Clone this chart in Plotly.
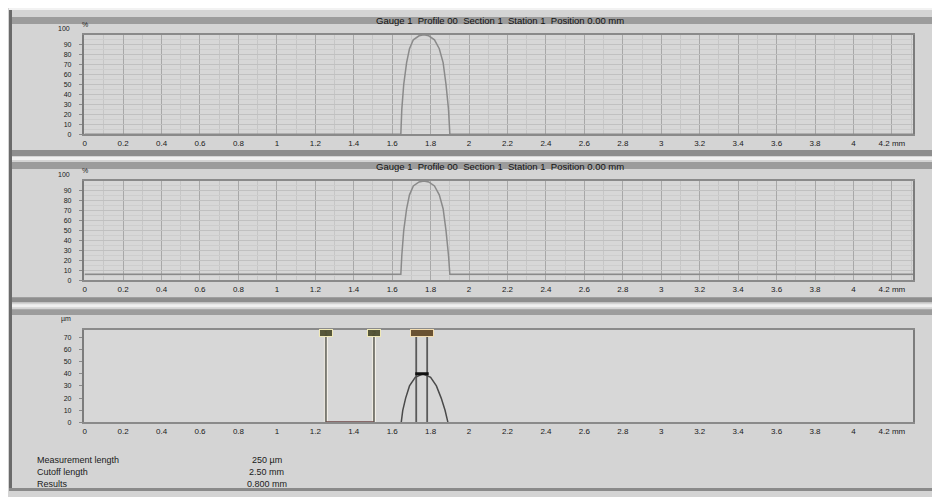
import plotly.graph_objects as go

# page is placed with an 8px body margin, so the figure is drawn 8px in and 8px down
OFF = 8
W, H = 940 - OFF, 497 - OFF

# ---------------- data ----------------
x_ticks = [0, 0.2, 0.4, 0.6, 0.8, 1, 1.2, 1.4, 1.6, 1.8, 2, 2.2, 2.4, 2.6, 2.8, 3, 3.2, 3.4, 3.6, 3.8, 4, 4.2]
x_tick_labels = ["0", "0.2", "0.4", "0.6", "0.8", "1", "1.2", "1.4", "1.6", "1.8", "2", "2.2", "2.4",
                 "2.6", "2.8", "3", "3.2", "3.4", "3.6", "3.8", "4", "4.2 mm"]
pct_ticks = [0, 10, 20, 30, 40, 50, 60, 70, 80, 90]
pct_labels = ["0", "10", "20", "30", "40", "50", "60", "70", "80", "90"]
um_ticks = [0, 100, 200, 300, 400, 500, 600, 700]
um_labels = ["0", "10", "20", "30", "40", "50", "60", "70"]

# profile traces
top_x = [0, 1.645, 1.65, 1.66, 1.675, 1.69, 1.71, 1.74, 1.765, 1.79, 1.82, 1.845, 1.865, 1.88, 1.893, 1.90, 4.31]
top_y = [0, 0, 25, 50, 72, 86, 95, 99, 100, 99, 95, 86, 72, 50, 25, 0, 0]
mid_x = [0, 1.645, 1.65, 1.66, 1.675, 1.69, 1.71, 1.74, 1.765, 1.79, 1.82, 1.845, 1.865, 1.88, 1.893, 1.90, 4.31]
mid_y = [6, 6, 25, 50, 72, 86, 95, 99, 100, 99, 95, 86, 72, 50, 25, 6, 6]
bot_x = [1.647, 1.655, 1.67, 1.69, 1.72, 1.76, 1.80, 1.83, 1.855, 1.875, 1.89]
bot_y = [0, 100, 200, 300, 370, 400, 370, 300, 200, 100, 0]
peak_bar_x = [1.72, 1.79]
peak_bar_y = [400, 400]
cursor_a = [1.255, 1.505]
cursor_b = [1.725, 1.782]
cursor_labels_a = ["1", "2"]

title_text = "Gauge 1  Profile 00  Section 1  Station 1  Position 0.00 mm"
left_info = ["Measurement length", "Cutoff length", "Results"]
mid_info = ["250 µm", "2.50 mm", "0.800 mm"]

FONT = "Liberation Sans"

# ---------------- helpers ----------------
def px(x):
    return (x - OFF) / W

def py(y):
    return 1 - (y - OFF) / H

XR = [-0.004, 4.31]
fig = go.Figure()

panels = [
    dict(top=35, bot=135),
    dict(top=182, bot=282),
    dict(top=332, bot=425),
]

fig.add_trace(go.Scatter(x=top_x, y=top_y, mode="lines", line=dict(color="#8a8a8a", width=1.5),
                         xaxis="x", yaxis="y", hoverinfo="skip"))
fig.add_trace(go.Scatter(x=mid_x, y=mid_y, mode="lines", line=dict(color="#8a8a8a", width=1.5),
                         xaxis="x2", yaxis="y2", hoverinfo="skip"))

# cursors in bottom panel
for cx in cursor_a:
    fig.add_trace(go.Scatter(x=[cx, cx], y=[0, 760], mode="lines", line=dict(color="#f4f0e8", width=4),
                             xaxis="x3", yaxis="y3", hoverinfo="skip"))
    fig.add_trace(go.Scatter(x=[cx, cx], y=[0, 760], mode="lines", line=dict(color="#7a7a72", width=2),
                             xaxis="x3", yaxis="y3", hoverinfo="skip"))
fig.add_trace(go.Scatter(x=cursor_a, y=[0, 0], mode="lines", line=dict(color="#6e4646", width=2.5),
                         xaxis="x3", yaxis="y3", hoverinfo="skip"))
for cx in cursor_b:
    fig.add_trace(go.Scatter(x=[cx, cx], y=[0, 760], mode="lines", line=dict(color="#5a5a5a", width=1.8),
                             xaxis="x3", yaxis="y3", hoverinfo="skip"))
fig.add_trace(go.Scatter(x=bot_x, y=bot_y, mode="lines", line=dict(color="#4a4a4a", width=1.5),
                         xaxis="x3", yaxis="y3", hoverinfo="skip"))
fig.add_trace(go.Scatter(x=peak_bar_x, y=peak_bar_y, mode="lines", line=dict(color="#111111", width=3),
                         xaxis="x3", yaxis="y3", hoverinfo="skip"))

# cursor label boxes
for cx, lab in zip(cursor_a, cursor_labels_a):
    fig.add_annotation(x=cx, y=735, xref="x3", yref="y3", text=lab, showarrow=False,
                       xanchor="center", yanchor="middle",
                       font=dict(size=7, color="#4a4a2c", family=FONT),
                       bgcolor="#56563a", bordercolor="#efe8b8", borderwidth=1, borderpad=0, width=12, height=6)
mid_b = (cursor_b[0] + cursor_b[1]) / 2
fig.add_annotation(x=mid_b, y=735, xref="x3", yref="y3", text=" ", showarrow=False,
                   xanchor="center", yanchor="middle",
                   bgcolor="#6a5232", bordercolor="#f2dcb0", borderwidth=1, borderpad=0, width=22, height=6)

axis_common = dict(range=XR, tickmode="array", tickvals=x_ticks, ticktext=x_tick_labels,
                   showgrid=True, gridcolor="#a8a8a8", gridwidth=1,
                   minor=dict(dtick=0.1, showgrid=True, gridcolor="#c6c6c6", gridwidth=1),
                   showline=True, linecolor="#8a8a8a", linewidth=2, mirror=True,
                   ticks="", zeroline=False,
                   tickfont=dict(size=8, color="#1a1a1a", family=FONT))

for i, p in enumerate(panels):
    suffix = "" if i == 0 else str(i + 1)
    xa = dict(axis_common, domain=[px(83), px(913)], anchor="y" + suffix)
    if i == 2:
        xa["showgrid"] = False
        xa["minor"] = dict(showgrid=False)
    fig.layout["xaxis" + suffix] = xa
    if i < 2:
        ya = dict(range=[0, 100], tickmode="array", tickvals=pct_ticks, ticktext=pct_labels,
                  showgrid=True, gridcolor="#c0c0c0",
                  minor=dict(dtick=5, showgrid=True, gridcolor="#cdcdcd"))
    else:
        ya = dict(range=[0, 760], tickmode="array", tickvals=um_ticks, ticktext=um_labels,
                  showgrid=False)
    ya.update(domain=[py(p["bot"]), py(p["top"])], anchor="x" + suffix,
              showline=True, linecolor="#7c7c7c", linewidth=2, mirror=True, ticks="outside",
              ticklen=3, tickcolor="#8a8a8a", zeroline=False, ticklabelstandoff=6,
              tickfont=dict(size=7, color="#1a1a1a", family=FONT))
    fig.layout["yaxis" + suffix] = ya

shapes = []
# top light strip (page region above the frame)
shapes.append(dict(type="rect", xref="paper", yref="paper", x0=0, x1=1, y0=py(10), y1=1,
                   fillcolor="#f2f2f2", line=dict(width=0), layer="below"))
# left frame line
shapes.append(dict(type="rect", xref="paper", yref="paper", x0=px(8), x1=px(11), y0=py(494), y1=py(10),
                   fillcolor="#6a6a6a", line=dict(width=0)))
# bottom frame line
shapes.append(dict(type="rect", xref="paper", yref="paper", x0=px(8), x1=1, y0=py(494), y1=py(491),
                   fillcolor="#8a8a8a", line=dict(width=0)))
# title bands / separators
for (y0, y1, c) in [(17, 24, "#9c9c9c"), (151, 157, "#8e8e8e"), (163, 170, "#9c9c9c"),
                    (299, 304, "#8e8e8e"), (311, 317, "#9c9c9c")]:
    shapes.append(dict(type="rect", xref="paper", yref="paper", x0=px(11), x1=1, y0=py(y1), y1=py(y0),
                       fillcolor=c, line=dict(width=0), layer="below"))
# white highlight lines
for y in [158, 306]:
    shapes.append(dict(type="rect", xref="paper", yref="paper", x0=px(11), x1=1, y0=py(y + 3), y1=py(y),
                       fillcolor="#f0f0f0", line=dict(width=0), layer="below"))
fig.update_layout(shapes=shapes)

# titles
for ty in [21, 167]:
    fig.add_annotation(x=px(500), y=py(ty), xref="paper", yref="paper", text=title_text, showarrow=False,
                       xanchor="center", yanchor="middle",
                       font=dict(size=9.5, color="#111111", family=FONT))
# unit labels
for uy in [29, 176]:
    fig.add_annotation(x=px(71), y=py(uy), xref="paper", yref="paper", text="100", showarrow=False,
                       xanchor="right", yanchor="middle", font=dict(size=7, color="#1a1a1a", family=FONT))
    fig.add_annotation(x=px(84), y=py(uy - 4), xref="paper", yref="paper", text="%", showarrow=False,
                       xanchor="center", yanchor="middle", font=dict(size=7, color="#1a1a1a", family=FONT))
fig.add_annotation(x=px(72), y=py(321), xref="paper", yref="paper", text="µm", showarrow=False,
                   xanchor="right", yanchor="middle", font=dict(size=7, color="#1a1a1a", family=FONT))

for k, (a, b) in enumerate(zip(left_info, mid_info)):
    yy = 463 + 12 * k
    fig.add_annotation(x=px(34), y=py(yy), xref="paper", yref="paper", text=a, showarrow=False,
                       xanchor="left", yanchor="middle", font=dict(size=9, color="#1a1a1a", family=FONT))
    fig.add_annotation(x=px(266), y=py(yy), xref="paper", yref="paper", text=b, showarrow=False,
                       xanchor="center", yanchor="middle", font=dict(size=9, color="#1a1a1a", family=FONT))

fig.update_layout(width=W, height=H, autosize=False, margin=dict(l=0, r=0, t=0, b=0),
                  paper_bgcolor="#d4d4d4", plot_bgcolor="#d7d7d7", showlegend=False)

fig.write_html("out.html")
